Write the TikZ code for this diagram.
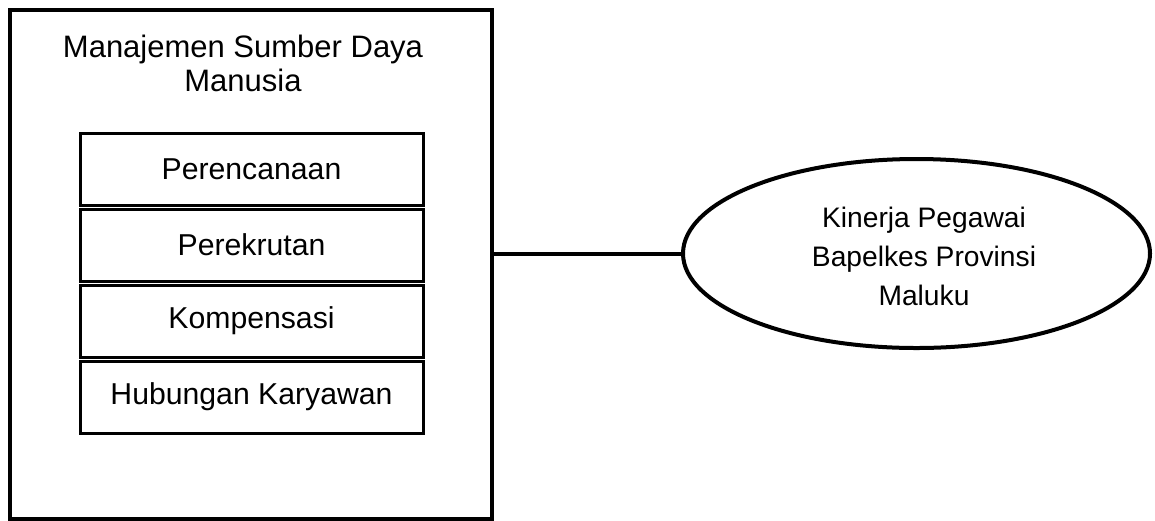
\documentclass[tikz,border=0pt]{standalone}
\usepackage{fontspec}
\setmainfont{Liberation Sans}
\usetikzlibrary{positioning,shapes.geometric}

\begin{document}
\begin{tikzpicture}[x=1pt,y=-1pt,
  outerbox/.style={draw,line width=4pt,minimum width=482pt,
    minimum height=509pt,inner sep=0pt},
  itembox/.style={draw,line width=3pt,minimum width=343pt,
    minimum height=72pt,inner sep=0pt,
    font=\fontsize{30.2}{34}\selectfont},
  goal/.style={draw,ellipse,line width=4pt,minimum width=467pt,
    minimum height=189pt,inner sep=0pt,align=center,
    font=\fontsize{28.2}{39}\selectfont}]
  \useasboundingbox (0,0) rectangle (1155,520);
  \node[outerbox] (MSDM) at (251,264.5) {};
  \node[align=center,font=\fontsize{31}{34}\selectfont]
    (title) at (243,63) {Manajemen Sumber Daya\\Manusia};
  \node[itembox] (plan) at (251.5,169) {Perencanaan};
  \node[itembox,below=1pt of plan] (rekrut) {Perekrutan};
  \node[itembox,below=1pt of rekrut] (komp) {Kompensasi};
  \node[itembox,below=1pt of komp] (hub) {Hubungan Karyawan};
  \node[goal] (kinerja) at (916.5,253.5) {};
  \node[align=center,font=\fontsize{28.2}{39}\selectfont]
    (kinText) at (924,256.5) {Kinerja Pegawai\\Bapelkes Provinsi\\Maluku};
  \draw[line width=4pt] (kinerja.west -| MSDM.east) -- (kinerja.west);
\end{tikzpicture}
\end{document}
